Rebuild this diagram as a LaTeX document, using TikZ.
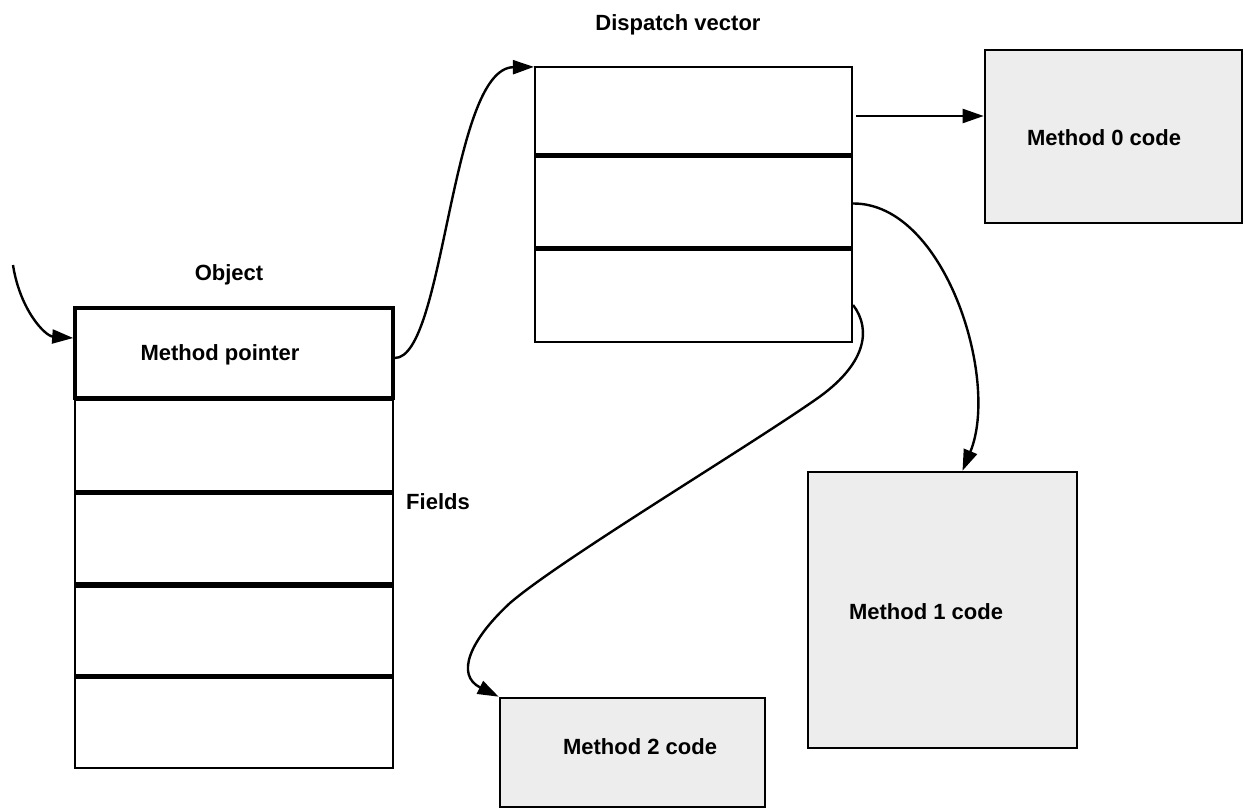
\documentclass[tikz,border=0pt]{standalone}
\usepackage{fontspec}
\setmainfont{Liberation Sans}
\usetikzlibrary{arrows.meta,positioning,calc}
\begin{document}
\begin{tikzpicture}[x=1pt,y=-1pt,
  cell/.style={draw,line width=2.2pt,minimum width=318pt,inner sep=0pt},
  dcell/.style={draw,line width=2.2pt,minimum width=317pt,inner sep=0pt},
  sep/.style={line width=5pt},
  code/.style={draw,line width=2.6pt,fill=gray!14,inner sep=0pt},
  lbl/.style={font=\bfseries\fontsize{22}{24}\selectfont,inner sep=0pt},
  conn/.style={line width=2.4pt,-{Triangle[length=21pt,width=14pt]}}
]
\useasboundingbox (0,0) rectangle (1245,809);
% Object
\node[cell,minimum height=93pt] (f1) at (234,446) {};
\node[cell,minimum height=93pt] (f2) at (234,540) {};
\node[cell,minimum height=92pt] (f3) at (234,632) {};
\node[cell,minimum height=90pt] (f4) at (234,723) {};
\node[draw,line width=3.6pt,minimum width=318pt,minimum height=90pt,inner sep=0pt,fill=white] (mp) at (234,353) {};
\draw[sep] (f1.north west) -- (f1.north east);
\draw[sep] (f2.north west) -- (f2.north east);
\draw[sep] (f3.north west) -- (f3.north east);
\draw[sep] (f4.north west) -- (f4.north east);
\node[lbl] (objlbl) at (229,275) {Object};
\node[lbl] (mplbl) at (220,355) {Method pointer};
\node[lbl] (fldlbl) at (438,502) {Fields};
% Dispatch vector
\node[dcell,minimum height=90pt] (d0) at (693.5,112) {};
\node[dcell,minimum height=93pt] (d1) at (693.5,203.5) {};
\node[dcell,minimum height=92pt] (d2) at (693.5,296) {};
\draw[sep] (d1.north west) -- (d1.north east);
\draw[sep] (d2.north west) -- (d2.north east);
\node[lbl] (dvlbl) at (678,25) {Dispatch vector};
% Code boxes
\node[code,minimum width=257pt,minimum height=173pt] (m0) at (1113.5,136.5) {};
\node[lbl] (m0lbl) at (1104,138) {Method 0 code};
\node[code,minimum width=269pt,minimum height=276pt] (m1) at (942.5,610) {};
\node[lbl] (m1lbl) at (926,612) {Method 1 code};
\node[code,minimum width=265pt,minimum height=109pt] (m2) at (632.5,752.5) {};
\node[lbl] (m2lbl) at (640,747) {Method 2 code};
% Connectors
\coordinate (src) at (13,265);
\draw[conn] (src) .. controls (20,310) and (45,336) .. ([yshift=15pt]mp.west);
\draw[conn] ([yshift=-5pt]mp.east) .. controls (445,358) and (450,68) .. ([yshift=-1pt]d0.north west);
\draw[conn] ([xshift=3pt,yshift=-4pt]d0.east) -- ([yshift=-4pt]d0.east -| m0.west);
\draw[conn] (d1.east) .. controls (945,203) and (1000,380) .. ([xshift=20pt]m1.north);
\draw[conn] ([yshift=-9pt]d2.east) .. controls (872,330) and (866,365) .. (815,400)
   .. controls (740,452) and (560,560) .. (510,603)
   .. controls (470,640) and (455,675) .. (m2.north west);
\end{tikzpicture}
\end{document}
